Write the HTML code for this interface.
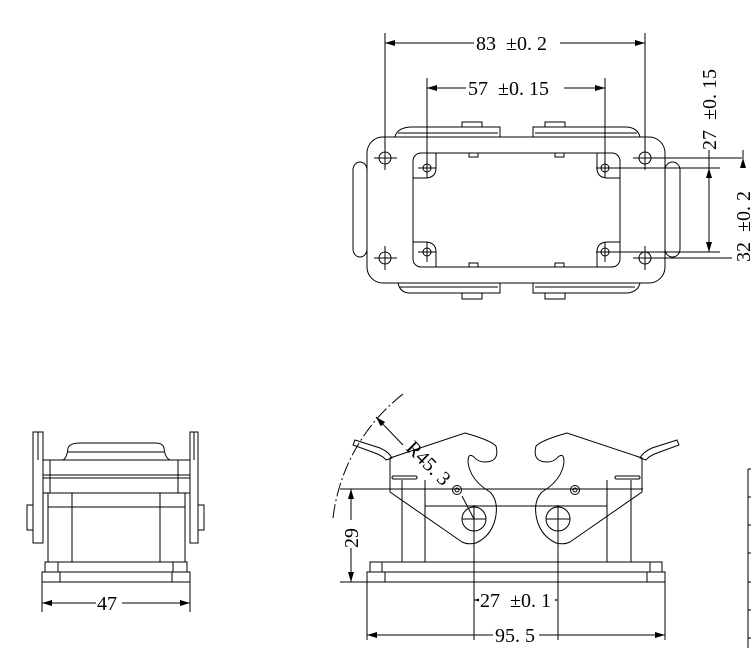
<!DOCTYPE html>
<html><head><style>
html,body{margin:0;padding:0;background:#fff;}
svg{display:block;}
text{font-family:"Liberation Serif","Noto Serif CJK SC",serif;font-size:20px;fill:#000;white-space:pre;}
</style></head><body>
<svg width="751" height="648" viewBox="0 0 751 648" xmlns="http://www.w3.org/2000/svg" xml:space="preserve">
<defs>
<marker id="a" viewBox="0 0 10 6" refX="10" refY="3" markerWidth="10" markerHeight="6" orient="auto-start-reverse" markerUnits="userSpaceOnUse"><path d="M0,0 L10,3 L0,6 z" fill="#000"/></marker>
</defs>
<g fill="none" stroke="#000" stroke-width="1">
<rect x="353" y="162" width="14" height="95" rx="8"/>
<rect x="665" y="162" width="15" height="95" rx="8"/>
<path d="M395,137 Q397,128 410,127 L500,127 L500,137 M533,137 L533,127 L627,127 Q638,128 640,137"/>
<path d="M398,133 L498,133 M535,133 L637,133"/>
<rect x="462" y="122" width="20" height="5"/><rect x="545" y="122" width="20" height="5"/>
<path d="M398,283 Q400,293 410,293 L500,293 L500,283 M533,283 L533,293 L627,293 Q638,292 640,283"/>
<path d="M400,287 L498,287 M535,287 L635,287"/>
<rect x="462" y="293" width="20" height="6"/><rect x="545" y="293" width="20" height="6"/>
<rect x="367" y="137" width="298" height="146" rx="16"/>
<rect x="413" y="153" width="207" height="114" rx="8"/>
<path d="M413,178 L425,178 Q436,178 436,168 L436,153 M620,178 L608,178 Q597,178 597,168 L597,153 M413,242 L425,242 Q436,242 436,252 L436,267 M620,242 L608,242 Q597,242 597,252 L597,267"/>
<rect x="469" y="153" width="9" height="4"/><rect x="555" y="153" width="9" height="4"/>
<rect x="469" y="263" width="9" height="4"/><rect x="555" y="263" width="9" height="4"/>
<circle cx="385" cy="158" r="6"/><circle cx="645" cy="158" r="6"/>
<circle cx="385" cy="258" r="6"/><circle cx="645" cy="258" r="6"/>
<circle cx="427" cy="168" r="4"/><circle cx="605" cy="168" r="4"/>
<circle cx="427" cy="252" r="4"/><circle cx="605" cy="252" r="4"/>
<path d="M374,158 H397 M385,33 V170 M374,258 H397 M385,246 V270 M633,158 H742 M645,33 V170 M633,258 H742 M645,246 V270"/>
<path d="M418,168 H436 M427,78 V178 M418,252 H436 M427,242 V262 M596,168 H720 M605,78 V178 M596,252 H720 M605,242 V262"/>
<path d="M385,43 H645" marker-start="url(#a)" marker-end="url(#a)"/>
<path d="M427,88 H605" marker-start="url(#a)" marker-end="url(#a)"/>
<path d="M709,168 V252" marker-start="url(#a)" marker-end="url(#a)"/>
<path d="M743,158 V258" marker-start="url(#a)" marker-end="url(#a)"/>
<path d="M709,168 V150 M743,158 V150"/>
<rect x="42" y="572" width="148" height="10"/>
<rect x="45" y="562" width="142" height="10"/>
<path d="M60,572 V582 M172,572 V582 M58,562 V572 M173,562 V572"/>
<rect x="48" y="493" width="137" height="69"/>
<path d="M72,493 V562 M160,493 V562 M48,507 H185"/>
<rect x="43" y="460" width="147" height="33"/>
<path d="M43,475 H190 M43,478 H190 M50,460 V493 M178,460 V493"/>
<path d="M63,460 Q67,458 68,448 Q70,443 80,443 L155,443 Q163,443 164,448 Q165,458 170,460 M68,452 H164"/>
<rect x="33" y="432" width="10" height="111"/><rect x="190" y="432" width="8" height="111"/>
<path d="M38,432 V460 M194,432 V460"/>
<rect x="27" y="505" width="6" height="25"/><rect x="198" y="505" width="6" height="25"/>
<path d="M42,582 V612 M190,582 V612"/>
<path d="M42,603 H190" marker-start="url(#a)" marker-end="url(#a)"/>
<rect x="367" y="572" width="298" height="10"/>
<rect x="370" y="562" width="292" height="10"/>
<path d="M385,572 V582 M647,572 V582 M382,562 V572 M650,562 V572"/>
<path d="M402,480 V562 M425,480 V562 M607,480 V562 M631,480 V562 M425,506 H607 M390,489 H643"/>
<path d="M390,458 L465,433 Q490,440 496,446 Q500,462 485,462 Q478,462 474,457 Q468,452 468,462 Q470,480 490,492 Q498,500 496,515 Q493,535 476,543 Q468,545 462,542 L390,492 Z"/>
<path d="M642,458 L567,433 Q542,440 536,446 Q532,462 547,462 Q554,462 558,457 Q564,452 564,462 Q562,480 542,492 Q534,500 536,515 Q539,535 556,543 Q564,545 570,542 L642,492 Z"/>
<circle cx="474" cy="519" r="12"/><circle cx="558" cy="519" r="12"/>
<circle cx="457" cy="490" r="4.5"/><circle cx="457" cy="490" r="2"/>
<circle cx="575" cy="490" r="4.5"/><circle cx="575" cy="490" r="2"/>
<path d="M390,458 V470 M642,458 V470"/>
<path d="M353,445 L355,440 L380,448 Q389,452 392,458 L386,460 Q383,456 375,453 Z"/>
<path d="M679,445 L677,440 L652,448 Q643,452 640,458 L646,460 Q649,456 657,453 Z"/>
<rect x="392" y="476" width="25" height="3" rx="1.5"/><rect x="615" y="476" width="25" height="3" rx="1.5"/>
<path d="M462,496 L474,519 M474,505 V640 M558,505 V640 M462,519 H486 M546,519 H570"/>
<path d="M403,445 L376,417" marker-end="url(#a)"/>
<path d="M333,518 A185,185 0 0 1 403,394" stroke-dasharray="14,3,2,3"/>
<path d="M340,489 H428 M340,582 H367 M367,582 V640 M665,582 V640"/>
<path d="M351,489 V582" marker-start="url(#a)" marker-end="url(#a)"/>
<path d="M474,600 H558" marker-start="url(#a)" marker-end="url(#a)"/>
<path d="M367,635 H665" marker-start="url(#a)" marker-end="url(#a)"/>
<path d="M748,469 V648 M748,469 H751 M748,497 H751 M748,525 H751 M748,553 H751 M748,582 H751 M748,610 H751 M748,638 H751"/>
</g>
<g>
<rect x="474" y="32" width="86" height="22" fill="#fff"/>
<text x="476" y="50">83  ±0. 2</text>
<rect x="466" y="77" width="98" height="22" fill="#fff"/>
<text x="468" y="95">57  ±0. 15</text>
<rect x="698" y="60" width="22" height="90" fill="#fff"/>
<text transform="translate(716,150) rotate(-90)">27  ±0. 15</text>
<rect x="732" y="168" width="19" height="94" fill="#fff"/>
<text transform="translate(750,262) rotate(-90)">32  ±0. 2</text>
<rect x="96" y="592" width="26" height="22" fill="#fff"/>
<text x="97" y="610">47</text>
<rect x="340" y="520" width="22" height="28" fill="#fff"/>
<text transform="translate(358,548) rotate(-90)">29</text>
<rect x="479" y="589" width="76" height="22" fill="#fff"/>
<text x="480" y="607">27  ±0. 1</text>
<rect x="493" y="624" width="46" height="22" fill="#fff"/>
<text x="495" y="642">95. 5</text>
<text transform="translate(405,449) rotate(45)">R45. 3</text>
</g>
</svg>
</body></html>
